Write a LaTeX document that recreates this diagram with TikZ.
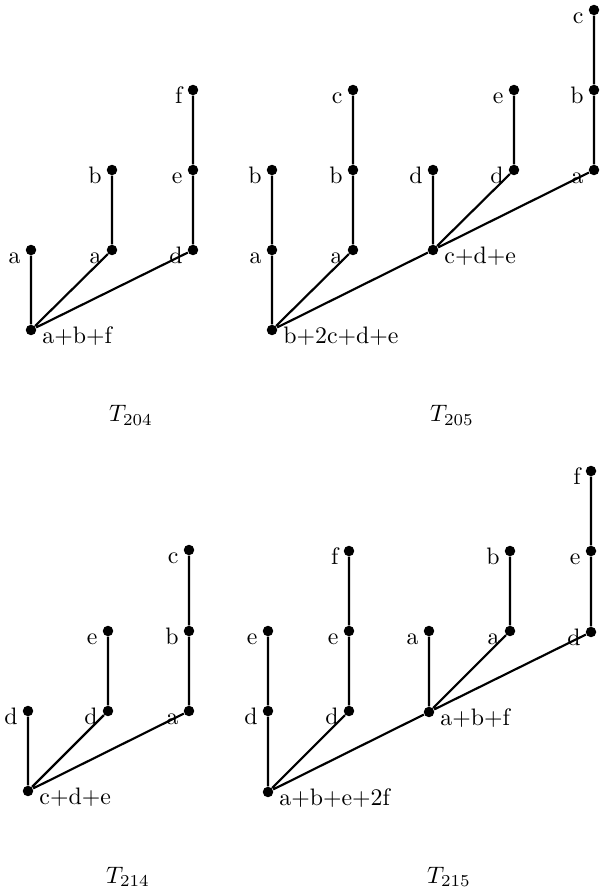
\documentclass[tikz,border=0pt]{standalone}
\usepackage{amsmath}
\usepackage{tikz}
\begin{document}
\begin{tikzpicture}[x=0.42pt, y=-0.42pt,
    dot/.style={circle, fill, inner sep=0pt, minimum size=4.4pt},
    lft/.style={label={[anchor=base east, inner sep=0pt, xshift=-1.8pt, yshift=-5.5pt]180:#1}},
    rgt/.style={label={[anchor=base west, inner sep=0pt, xshift=2.2pt, yshift=-5.5pt]0:#1}},
    branch/.style={line width=0.9pt}]
    \useasboundingbox (0,0) rectangle (600,895);

    % T204
    \node [dot, rgt={a+b+f}] (A0) at (31,330) {};
    \node [dot, lft=a] (A1) at (31,250) {};
    \node [dot, lft=a] (A2) at (112,250) {};
    \node [dot, lft=d] (A3) at (193,250) {};
    \node [dot, lft=b] (A4) at (112,170) {};
    \node [dot, lft=e] (A5) at (193,170) {};
    \node [dot, lft=f] (A6) at (193,90) {};
    \node [anchor=base] (capA) at (131,422) {$T_{204}$};

    \draw [branch] (A0) -- (A1) (A0) -- (A2) -- (A4) (A0) -- (A3) -- (A5) -- (A6);

    % T205
    \node [dot, rgt={b+2c+d+e}] (B0) at (272,330) {};
    \node [dot, lft=a] (B1) at (272,250) {};
    \node [dot, lft=a] (B2) at (353,250) {};
    \node [dot, rgt={c+d+e}] (B3) at (433,250) {};
    \node [dot, lft=b] (B4) at (272,170) {};
    \node [dot, lft=b] (B5) at (353,170) {};
    \node [dot, lft=c] (B6) at (353,90) {};
    \node [dot, lft=d] (B7) at (433,170) {};
    \node [dot, lft=d] (B8) at (514,170) {};
    \node [dot, lft=a] (B9) at (594,170) {};
    \node [dot, lft=e] (B10) at (514,90) {};
    \node [dot, lft=b] (B11) at (594,90) {};
    \node [dot, lft=c] (B12) at (594,10) {};
    \node [anchor=base] (capB) at (452,422) {$T_{205}$};

    \draw [branch] (B0) -- (B1) -- (B4) (B0) -- (B2) -- (B5) -- (B6) (B0) -- (B3);
    \draw [branch] (B3) -- (B7) (B3) -- (B8) -- (B10) (B3) -- (B9) -- (B11) -- (B12);

    % T214
    \node [dot, rgt={c+d+e}] (C0) at (28,791) {};
    \node [dot, lft=d] (C1) at (28,711) {};
    \node [dot, lft=d] (C2) at (108,711) {};
    \node [dot, lft=a] (C3) at (189,711) {};
    \node [dot, lft=e] (C4) at (108,631) {};
    \node [dot, lft=b] (C5) at (189,631) {};
    \node [dot, lft=c] (C6) at (189,550) {};
    \node [anchor=base] (capC) at (128,883) {$T_{214}$};

    \draw [branch] (C0) -- (C1) (C0) -- (C2) -- (C4) (C0) -- (C3) -- (C5) -- (C6);

    % T215
    \node [dot, rgt={a+b+e+2f}] (D0) at (268,792) {};
    \node [dot, lft=d] (D1) at (268,711) {};
    \node [dot, lft=d] (D2) at (349,711) {};
    \node [dot, rgt={a+b+f}] (D3) at (429,712) {};
    \node [dot, lft=e] (D4) at (268,631) {};
    \node [dot, lft=e] (D5) at (349,631) {};
    \node [dot, lft=f] (D6) at (349,551) {};
    \node [dot, lft=a] (D7) at (429,631) {};
    \node [dot, lft=a] (D8) at (510,631) {};
    \node [dot, lft=d] (D9) at (591,632) {};
    \node [dot, lft=b] (D10) at (510,551) {};
    \node [dot, lft=e] (D11) at (591,551) {};
    \node [dot, lft=f] (D12) at (591,471) {};
    \node [anchor=base] (capD) at (449,883) {$T_{215}$};

    \draw [branch] (D0) -- (D1) -- (D4) (D0) -- (D2) -- (D5) -- (D6) (D0) -- (D3);
    \draw [branch] (D3) -- (D7) (D3) -- (D8) -- (D10) (D3) -- (D9) -- (D11) -- (D12);
\end{tikzpicture}
\end{document}
